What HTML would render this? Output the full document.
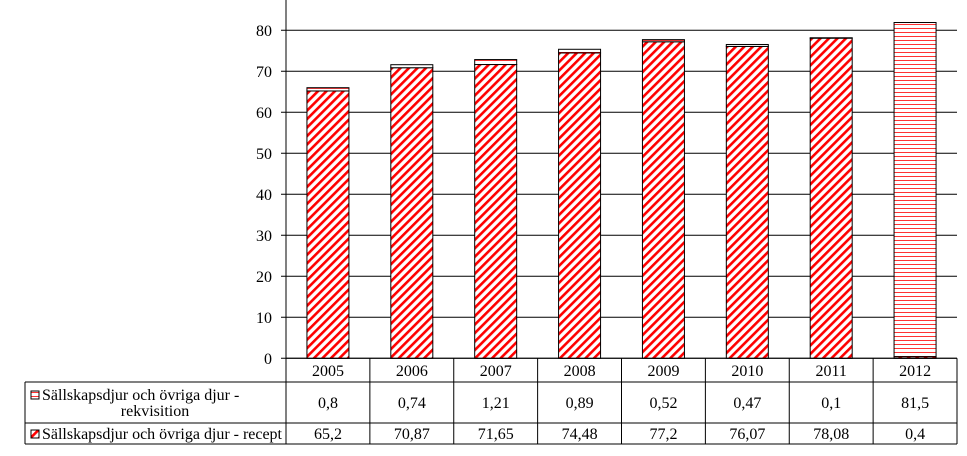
<!DOCTYPE html>
<html><head><meta charset="utf-8"><style>
body{margin:0;background:#fff;}
svg text{font-family:"Liberation Serif",serif;font-size:16px;fill:#000;}
</style></head><body>
<svg id="chart" width="967" height="451" viewBox="0 0 967 451">
<defs>
<pattern id="diag" patternUnits="userSpaceOnUse" width="6" height="6" patternTransform="rotate(45)">
<rect width="6" height="6" fill="#fff"/><rect width="2.6" height="6" fill="#f00"/></pattern>
<pattern id="horiz" patternUnits="userSpaceOnUse" width="4" height="4">
<rect width="4" height="4" fill="#fff"/><rect y="0" width="4" height="0.8" fill="#f00"/></pattern>
</defs>
<g id="grid"></g><g id="bars"></g><g id="table"></g>
</svg>
<script>
const categories=["2005","2006","2007","2008","2009","2010","2011","2012"];
const rekvisition=[0.8,0.74,1.21,0.89,0.52,0.47,0.1,81.5];
const recept=[65.2,70.87,71.65,74.48,77.2,76.07,78.08,0.4];
const yTicks=[0,10,20,30,40,50,60,70,80];
const seriesNames=["Sällskapsdjur och övriga djur - rekvisition","Sällskapsdjur och övriga djur - recept"];
const NS="http://www.w3.org/2000/svg";
const L=286,R=957,Y0=358.3,PX=4.1,TL=25;
const y=v=>Y0-v*PX;
const cw=(R-L)/categories.length;
const xc=i=>L+cw*(i+0.5);
function mk(t,a,p,txt){const e=document.createElementNS(NS,t);for(const k in a)e.setAttribute(k,a[k]);if(txt!==undefined)e.textContent=txt;p.appendChild(e);return e;}
const grid=document.getElementById('grid'),bars=document.getElementById('bars'),tb=document.getElementById('table');
yTicks.forEach(v=>{
 const g=mk('line',{x1:281,x2:R,y1:y(v),y2:y(v),stroke:'#000','stroke-width':1},grid);
 
 const t=mk('text',{x:272,y:y(v)+5.5,'text-anchor':'end'},grid,v);
 
});
const ax=mk('line',{x1:L,x2:L,y1:0,y2:Y0,stroke:'#000'},grid);

categories.forEach((c,i)=>{
 const bw=42,bx=xc(i)-bw/2;
 const r1=mk('rect',{x:bx,y:y(recept[i]),width:bw,height:recept[i]*PX,fill:'url(#diag)',stroke:'#000','stroke-width':1},bars);
 
 const top=recept[i]+rekvisition[i];
 const r2=mk('rect',{x:bx,y:y(top),width:bw,height:rekvisition[i]*PX,fill:'url(#horiz)',stroke:'#000','stroke-width':1},bars);
 
});
const rows=[358.3,382,423,444];
const ln=(x1,y1,x2,y2)=>{const e=mk('line',{x1,y1,x2,y2,stroke:'#000','stroke-width':1},tb);};
ln(L,rows[0],R,rows[0]);ln(TL,rows[1],R,rows[1]);ln(TL,rows[2],R,rows[2]);ln(TL,rows[3],R,rows[3]);
ln(TL,rows[1],TL,rows[3]);
for(let i=0;i<=categories.length;i++)ln(L+cw*i,rows[0],L+cw*i,rows[3]);
categories.forEach((c,i)=>{
 let t=mk('text',{x:xc(i),y:376,'text-anchor':'middle'},tb,c);
 t=mk('text',{x:xc(i),y:408,'text-anchor':'middle'},tb,String(rekvisition[i]).replace('.',','));
 t=mk('text',{x:xc(i),y:439,'text-anchor':'middle'},tb,String(recept[i]).replace('.',','));
});
let k=mk('rect',{x:31,y:391,width:8,height:8,fill:'url(#horiz)',stroke:'#000'},tb);
k=mk('rect',{x:31,y:430,width:8,height:8,fill:'url(#diag)',stroke:'#000'},tb);
let t=mk('text',{x:42,y:400},tb,"Sällskapsdjur och övriga djur -");
t=mk('text',{x:155,y:416,'text-anchor':'middle'},tb,"rekvisition");
t=mk('text',{x:42,y:439,textLength:240,lengthAdjust:'spacing'},tb,seriesNames[1]);
</script>
</body></html>
